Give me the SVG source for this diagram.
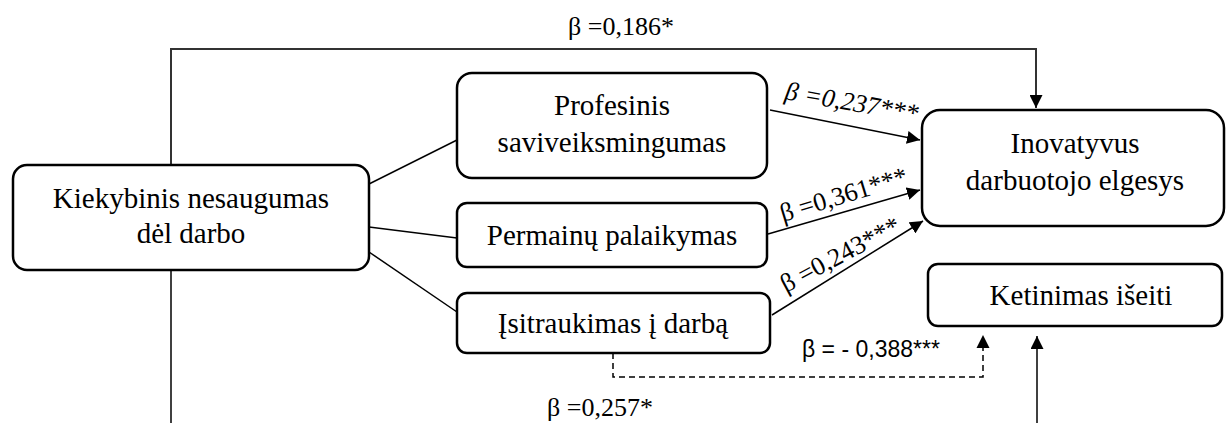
<svg xmlns="http://www.w3.org/2000/svg" width="1226" height="423" viewBox="0 0 1226 423">
<style>
.box{fill:#fff;stroke:#000;stroke-width:2.5}
.bt{font-size:29px;fill:#000;text-anchor:middle}
.lbl{font-size:26px;fill:#000}
.lbs{font-size:23px;fill:#000}
.ln{fill:none;stroke:#000;stroke-width:1.5}
.dash{fill:none;stroke:#000;stroke-width:1.5;stroke-dasharray:6 4}
</style>
<defs>
<marker id="ah" markerUnits="userSpaceOnUse" markerWidth="14" markerHeight="13" refX="13" refY="6.5" orient="auto">
<path d="M0,0 L13,6.5 L0,13 z" fill="#000"/>
</marker>
</defs>
<rect width="1226" height="423" fill="#fff"/>
<g id="connectors">
<path class="ln" d="M171,423 L171,270"/>
<path class="ln" style="stroke:#333;stroke-width:2" d="M171,165 L171,49 L1036,49 L1036,108" marker-end="url(#ah)"/>
<path class="ln" d="M369,184 L457,140"/>
<path class="ln" d="M369,227 L457,238"/>
<path class="ln" d="M369,252 L457,312"/>
<path class="ln" d="M770,110 L920,140" marker-end="url(#ah)"/>
<path class="ln" d="M768,234 L920,190" marker-end="url(#ah)"/>
<path class="ln" d="M772,315 L923,221" marker-end="url(#ah)"/>
<path class="dash" d="M613,353 L613,377 L983,377 L983,340"/>
<path d="M976.5,348 L983,335 L989.5,348 z" fill="#000"/>
<path class="ln" d="M1037,423 L1037,336" marker-end="url(#ah)"/>
<g font-family="Liberation Serif, Times New Roman, Times, DejaVu Serif, serif">
<text class="lbl" x="568" y="35">β =0,186*</text>
<text class="lbl" font-style="italic" transform="translate(784,99) rotate(10)">β =0,237***</text>
<text class="lbl" transform="translate(783,222) rotate(-17)">β =0,361***</text>
<text class="lbl" transform="translate(786,293) rotate(-28)">β =0,243***</text>
<text class="lbl" x="547" y="416">β =0,257*</text>
</g>
<text class="lbs" font-family="Liberation Sans, Arial, sans-serif" x="802" y="357">β = - 0,388***</text>
</g>
<g font-family="Liberation Serif, Times New Roman, Times, DejaVu Serif, serif">
<g id="n-kiekybinis">
<rect class="box" x="13" y="165" width="356" height="105" rx="14"/>
<text class="bt" x="191" y="208">Kiekybinis nesaugumas</text>
<text class="bt" x="191" y="243">dėl darbo</text>
</g>
<g id="n-profesinis">
<rect class="box" x="457" y="73" width="310" height="105" rx="15"/>
<text class="bt" x="612" y="115">Profesinis</text>
<text class="bt" x="612" y="152">saviveiksmingumas</text>
</g>
<g id="n-permainu">
<rect class="box" x="457" y="203" width="310" height="64" rx="10"/>
<text class="bt" x="612" y="245">Permainų palaikymas</text>
</g>
<g id="n-isitraukimas">
<rect class="box" x="457" y="293" width="313" height="60" rx="10"/>
<text class="bt" x="613" y="333">Įsitraukimas į darbą</text>
</g>
<g id="n-inovatyvus">
<rect class="box" x="922" y="110" width="302" height="116" rx="18"/>
<text class="bt" x="1075" y="153">Inovatyvus</text>
<text class="bt" x="1075" y="190">darbuotojo elgesys</text>
</g>
<g id="n-ketinimas">
<rect class="box" x="928" y="264" width="294" height="62" rx="10"/>
<text class="bt" x="1081" y="305">Ketinimas išeiti</text>
</g>
</g>
</svg>
